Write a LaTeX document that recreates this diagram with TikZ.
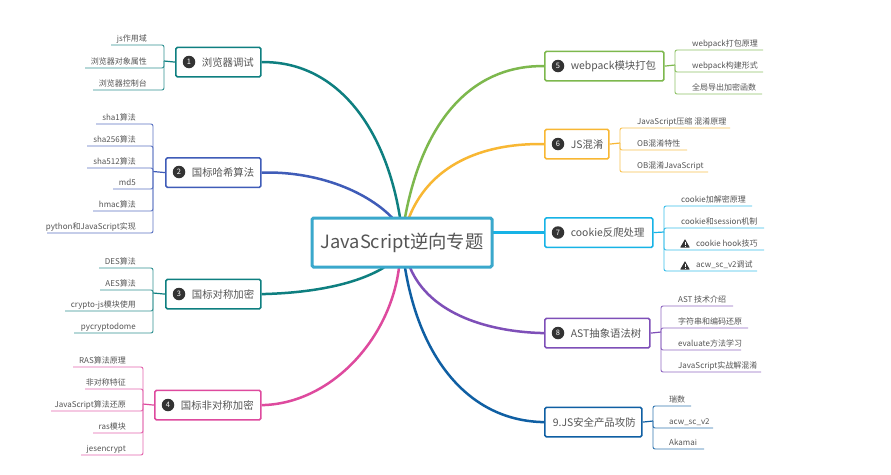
\documentclass[tikz,border=0pt]{standalone}
\usepackage{fontspec}
\setmainfont{Noto Sans CJK SC}
\usetikzlibrary{backgrounds}
\definecolor{inkgrey}{HTML}{555555}
\definecolor{dotgrey}{HTML}{333333}
\definecolor{rootc}{HTML}{3AA8CC}
\definecolor{cone}{HTML}{0E7F80}
\definecolor{ctwo}{HTML}{3F5CB8}
\definecolor{cthree}{HTML}{0E7F80}
\definecolor{cfour}{HTML}{DE4A9E}
\definecolor{cfive}{HTML}{7DB84D}
\definecolor{csix}{HTML}{F8B733}
\definecolor{cseven}{HTML}{17B3E6}
\definecolor{ceight}{HTML}{7E4FB8}
\definecolor{cnine}{HTML}{0F5FA3}
\tikzset{
  x=1pt, y=-1pt,
  topic/.style={draw=#1, line width=1.7pt, rounded corners=1.5pt, fill=white, inner xsep=0pt, inner ysep=0pt,
    minimum height=29.5pt, align=left, text=inkgrey, font=\fontsize{10.4pt}{12pt}\selectfont},
  numdot/.style={circle, fill=dotgrey, text=white, inner sep=0pt, minimum size=12.5pt, font=\fontsize{7.5pt}{8pt}\selectfont},
  leaftext/.style={inner sep=0pt, text=inkgrey, font=\fontsize{8pt}{9pt}\selectfont},
  twig/.style={draw=#1!85!white, line width=.95pt, rounded corners=2pt},
  stem/.style={draw=#1, line width=1.2pt},
  limb/.style={draw=#1, line width=2.5pt},
}
% topic box: name, colour, left, top, width, label
\newcommand\topicbox[6]{%
  \node[topic=#2, anchor=north west, text width=#5pt, minimum width=#5pt] (#1) at (#3,#4) {\hspace*{26pt}#6};
}
% twig on the left side: name, colour, bracket x, stem y, end x, y, label
\newcommand\twigL[7]{%
  \node[leaftext, anchor=base east] (#1) at (#3-17,#6-4) {#7};
  \coordinate (#1e) at (#5,#6);
  \coordinate (#1g) at (#3,#4);
  \draw[twig=#2] (#1g) |- (#1e);
}
% twig on the right side: name, colour, bracket x, stem y, end x, y, text offset, label
\newcommand\twigR[8]{%
  \node[leaftext, anchor=base west] (#1) at (#3+#7,#6-4) {#8};
  \coordinate (#1e) at (#5,#6);
  \coordinate (#1g) at (#3,#4);
  \draw[twig=#2] (#1g) |- (#1e);
}
% warning triangle centred on a point
\newcommand\warnmark[2]{%
  \fill[dotgrey, rounded corners=.4pt] (#1-4.8,#2+4) -- (#1,#2-4.4) -- (#1+4.8,#2+4) -- cycle;
  \fill[white] (#1-.5,#2-1.6) rectangle (#1+.5,#2+1.3);
  \fill[white] (#1-.5,#2+2) rectangle (#1+.5,#2+3);
}
\begin{document}
\begin{tikzpicture}
\path[use as bounding box] (0,0) rectangle (891,474);

% central topic
\node[draw=rootc, line width=3pt, rounded corners=1.5pt, fill=white, minimum width=180pt, minimum height=49pt,
      inner sep=0pt, text=inkgrey, font=\fontsize{18.3pt}{20pt}\selectfont] (main) at (402,242.5) {JavaScript逆向专题};

% main topics
\topicbox{b1}{cone}{175}{46.5}{85}{浏览器调试}
\topicbox{b2}{ctwo}{165}{157}{95}{国标哈希算法}
\topicbox{b3}{cthree}{165}{278.5}{95}{国标对称加密}
\topicbox{b4}{cfour}{154}{389.5}{106}{国标非对称加密}
\topicbox{b5}{cfive}{544}{50.5}{119}{webpack模块打包}
\topicbox{b6}{csix}{544}{128.5}{64}{JS混淆}
\topicbox{b7}{cseven}{544}{217}{108}{cookie反爬处理}
\topicbox{b8}{ceight}{544}{317.5}{105}{AST抽象语法树}
\node[topic=cnine, anchor=north west, text width=97pt, minimum width=97pt] (b9) at (544,406.5) {\hspace*{8pt}9.JS安全产品攻防};

% numbered markers
\node[numdot] (d1) at (189,62) {1};
\node[numdot] (d2) at (179,172) {2};
\node[numdot] (d3) at (179,294) {3};
\node[numdot] (d4) at (168,405) {4};
\node[numdot] (d5) at (558,66) {5};
\node[numdot] (d6) at (558,144) {6};
\node[numdot] (d7) at (558,232.5) {7};
\node[numdot] (d8) at (558,333) {8};

% where the limbs enter the central topic's border
\coordinate (rt1) at ([xshift=-2pt,yshift=-1pt]main.north);
\coordinate (rt2) at ([xshift=-10pt,yshift=-1pt]main.north);
\coordinate (rt5) at ([xshift=3pt,yshift=-1pt]main.north);
\coordinate (rt6) at ([xshift=7pt,yshift=-1pt]main.north);
\coordinate (rb3) at ([xshift=-18pt,yshift=1pt]main.south);
\coordinate (rb4) at ([xshift=-3pt,yshift=1pt]main.south);
\coordinate (rb8) at ([xshift=8pt,yshift=1pt]main.south);
\coordinate (rb9) at ([xshift=3pt,yshift=1pt]main.south);
\coordinate (rr7) at (main.center |- b7.west);

% limbs joining the central topic to the main topics
\begin{scope}[on background layer]
  \fill[white] (0,0) rectangle (891,474);
  \draw[limb=cone]   (b1.east) .. controls (335,61) and (385,125) .. (rt1);
  \draw[limb=ctwo]   (b2.east) .. controls (315,171) and (365,190) .. (rt2);
  \draw[limb=cthree] (b3.east) .. controls (310,293) and (355,285) .. (rb3);
  \draw[limb=cfour]  (b4.east) .. controls (330,404) and (390,340) .. (rb4);
  \draw[limb=cfive]  (b5.west) .. controls (480,65) and (425,110) .. (rt5);
  \draw[limb=csix]   (b6.west) .. controls (490,143) and (432,160) .. (rt6);
  \draw[limb=cseven] (rr7) -- (b7.west);
  \draw[limb=ceight] (b8.west) .. controls (490,332) and (430,315) .. (rb8);
  \draw[limb=cnine]  (b9.west) .. controls (470,421) and (420,360) .. (rb9);
\end{scope}

% browser debugging
\draw[stem=cone] (b1.west) -- (164,61);
\twigL{a1}{cone}{164}{61}{111}{45}{js作用域}
\twigL{a2}{cone}{164}{61}{85}{68}{浏览器对象属性}
\twigL{a3}{cone}{164}{61}{93}{90}{浏览器控制台}

% hash algorithms
\draw[stem=ctwo] (b2.west) -- (153,171.5);
\twigL{e1}{ctwo}{153}{171.5}{96}{124}{sha1算法}
\twigL{e2}{ctwo}{153}{171.5}{87}{146}{sha256算法}
\twigL{e3}{ctwo}{153}{171.5}{87}{168}{sha512算法}
\twigL{e4}{ctwo}{153}{171.5}{113}{189}{md5}
\twigL{e5}{ctwo}{153}{171.5}{93}{211}{hmac算法}
\twigL{e6}{ctwo}{153}{171.5}{47}{233}{python和JavaScript实现}

% symmetric ciphers
\draw[stem=cthree] (b3.west) -- (153,293);
\twigL{f1}{cthree}{153}{293}{99}{268}{DES算法}
\twigL{f2}{cthree}{153}{293}{100}{290}{AES算法}
\twigL{f3}{cthree}{153}{293}{65}{311}{crypto-js模块使用}
\twigL{f4}{cthree}{153}{293}{74}{333}{pycryptodome}

% asymmetric ciphers
\draw[stem=cfour] (b4.west) -- (143,404);
\twigL{g1}{cfour}{143}{404}{73}{367}{RAS算法原理}
\twigL{g2}{cfour}{143}{404}{85}{389}{非对称特征}
\twigL{g3}{cfour}{143}{404}{51}{411}{JavaScript算法还原}
\twigL{g4}{cfour}{143}{404}{93}{433}{ras模块}
\twigL{g5}{cfour}{143}{404}{81}{455}{jesencrypt}

% webpack
\draw[stem=cfive] (b5.east) -- (675,65);
\twigR{h1}{cfive}{675}{65}{763}{50}{17}{webpack打包原理}
\twigR{h2}{cfive}{675}{65}{763}{72}{17}{webpack构建形式}
\twigR{h3}{cfive}{675}{65}{762}{94}{17}{全局导出加密函数}

% obfuscation
\draw[stem=csix] (b6.east) -- (620,143);
\twigR{i1}{csix}{620}{143}{730}{128}{17}{JavaScript压缩 混淆原理}
\twigR{i2}{csix}{620}{143}{687}{150}{17}{OB混淆特性}
\twigR{i3}{csix}{620}{143}{708}{172}{17}{OB混淆JavaScript}

% cookie handling
\draw[stem=cseven] (b7.east) -- (664,232);
\twigR{j1}{cseven}{664}{232}{752}{206}{17}{cookie加解密原理}
\twigR{j2}{cseven}{664}{232}{764}{228}{17}{cookie和session机制}
\twigR{j3}{cseven}{664}{232}{764}{250}{32}{cookie hook技巧}
\twigR{j4}{cseven}{664}{232}{757}{271}{32}{acw\_sc\_v2调试}
\warnmark{685}{243.5}
\warnmark{685}{265.5}

% AST
\draw[stem=ceight] (b8.east) -- (661,332);
\twigR{k1}{ceight}{661}{332}{733}{306}{17}{AST 技术介绍}
\twigR{k2}{ceight}{661}{332}{748}{328}{17}{字符串和编码还原}
\twigR{k3}{ceight}{661}{332}{741}{350}{17}{evaluate方法学习}
\twigR{k4}{ceight}{661}{332}{761}{372}{17}{JavaScript实战解混淆}

% security products
\draw[stem=cnine] (b9.east) -- (653,421);
\twigR{m1}{cnine}{653}{421}{691}{406}{16}{瑞数}
\twigR{m2}{cnine}{653}{421}{713}{428}{16}{acw\_sc\_v2}
\twigR{m3}{cnine}{653}{421}{704}{449}{16}{Akamai}
\end{tikzpicture}
\end{document}
